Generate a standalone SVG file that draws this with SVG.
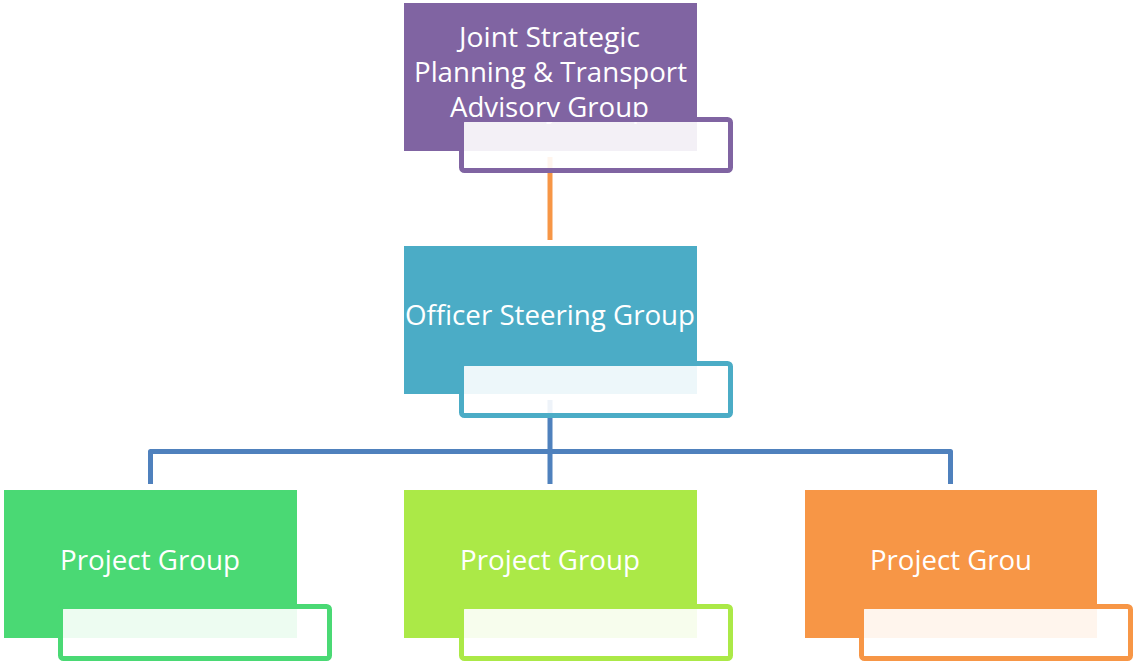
<svg xmlns="http://www.w3.org/2000/svg" width="1133" height="662" viewBox="0 0 1133 662">
  <style>
    .box { stroke: none; }
    .tag { fill: #ffffff; fill-opacity: 0.9; stroke-width: 5; }
    .label { font-family: "Open Sans", "Liberation Sans", sans-serif; font-size: 27px; fill: #ffffff; }
    .link { fill: none; stroke-width: 5; stroke-linejoin: round; }
  </style>
  <rect width="1133" height="662" fill="#ffffff"/>

  <!-- connectors -->
  <g id="connectors">
    <line class="link" x1="550" y1="157" x2="550" y2="240" stroke="#F79646" stroke-width="4"/>
    <path class="link" d="M550 400 V484 M150.5 484 V451.5 H950.5 V484" stroke="#4F81BD"/>
  </g>

  <!-- top node -->
  <g id="advisory-group">
    <rect class="box" x="404" y="3" width="293" height="148" fill="#8064A2"/>
    <text class="label" x="459" y="47" textLength="181" lengthAdjust="spacingAndGlyphs">Joint Strategic</text>
    <text class="label" x="414" y="82" textLength="273" lengthAdjust="spacingAndGlyphs">Planning &amp; Transport</text>
    <text class="label" x="450" y="117" textLength="199" lengthAdjust="spacingAndGlyphs">Advisory Group</text>
    <rect class="tag" x="461.5" y="119.5" width="269" height="51" rx="3" stroke="#8064A2"/>
  </g>

  <!-- middle node -->
  <g id="steering-group">
    <rect class="box" x="404" y="246" width="293" height="148" fill="#4BACC6"/>
    <text class="label" x="405" y="325" textLength="290" lengthAdjust="spacingAndGlyphs">Officer Steering Group</text>
    <rect class="tag" x="461.5" y="363.5" width="269" height="52" rx="3" stroke="#4BACC6"/>
  </g>

  <!-- project nodes -->
  <g id="project-left">
    <rect class="box" x="4" y="490" width="293" height="148" fill="#4AD974"/>
    <text class="label" x="60" y="570" textLength="180" lengthAdjust="spacingAndGlyphs">Project Group</text>
    <rect class="tag" x="60.5" y="606.5" width="269" height="52" rx="3" stroke="#4AD974"/>
  </g>

  <g id="project-middle">
    <rect class="box" x="404" y="490" width="293" height="148" fill="#ABE947"/>
    <text class="label" x="460" y="570" textLength="180" lengthAdjust="spacingAndGlyphs">Project Group</text>
    <rect class="tag" x="461.5" y="606.5" width="269" height="52" rx="3" stroke="#ABE947"/>
  </g>

  <g id="project-right">
    <rect class="box" x="805" y="490" width="292" height="148" fill="#F79646"/>
    <text class="label" x="870" y="570" textLength="162" lengthAdjust="spacingAndGlyphs">Project Grou</text>
    <rect class="tag" x="861.5" y="606.5" width="269" height="52" rx="3" stroke="#F79646"/>
  </g>
</svg>
